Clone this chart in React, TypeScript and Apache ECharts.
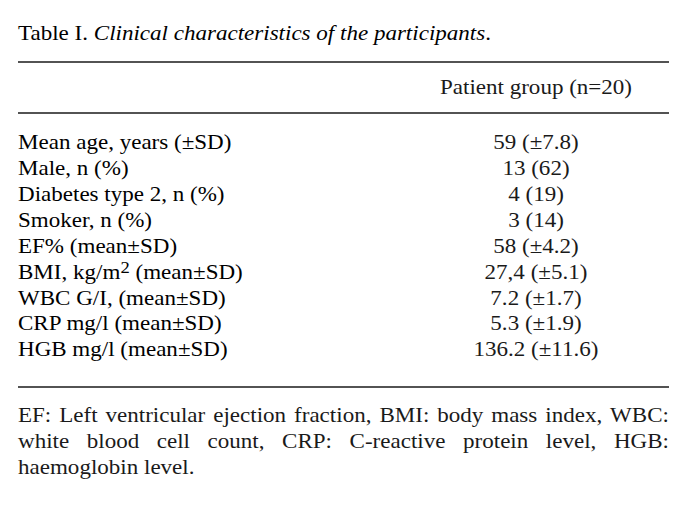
import React, { useEffect, useRef } from "react";
import * as echarts from "echarts";

const titleLead = "Table I. ";
const titleItalic = "Clinical characteristics of the participants";
const titleEnd = ".";
const columnHeader = "Patient group (n=20)";
const rowLabels = [
  "Mean age, years (±SD)",
  "Male, n (%)",
  "Diabetes type 2, n (%)",
  "Smoker, n (%)",
  "EF% (mean±SD)",
  "BMI, kg/m^2 (mean±SD)",
  "WBC G/I, (mean±SD)",
  "CRP mg/l (mean±SD)",
  "HGB mg/l (mean±SD)",
];
const rowValues = [
  "59 (±7.8)",
  "13 (62)",
  "4 (19)",
  "3 (14)",
  "58 (±4.2)",
  "27,4 (±5.1)",
  "7.2 (±1.7)",
  "5.3 (±1.9)",
  "136.2 (±11.6)",
];
const footnoteLines = [
  "EF: Left ventricular ejection fraction, BMI: body mass index, WBC:",
  "white blood cell count, CRP: C-reactive protein level, HGB:",
  "haemoglobin level.",
];

const FONT = "'Liberation Serif', 'Times New Roman', serif";
const FS = 21;
const SX = (1.28 * 18) / 21;
const LEFT = 18;
const RIGHT = 669;
const VAL_X = 536;
const COLOR = "#1a1a1a";

function measure(text: string): number {
  const c = document.createElement("canvas");
  const ctx = c.getContext("2d")!;
  ctx.font = `${FS}px ${FONT}`;
  return ctx.measureText(text).width * SX;
}

function richLabel(label: string): string {
  const m = label.match(/^(.*)\^(\d)(.*)$/);
  if (!m) return `{n|${label}}`;
  return `{n|${m[1]}}{sup|${m[2]}}{n|${m[3]}}`;
}

export default function App() {
  const ref = useRef<HTMLDivElement>(null);
  useEffect(() => {
    if (!ref.current) return;
    const chart = echarts.init(ref.current, undefined, { renderer: "svg" });
    const els: any[] = [];
    const textStyle = { fontFamily: FONT, fontSize: FS, fill: COLOR };

    els.push({
      type: "text",
      x: LEFT,
      y: 33,
      scaleX: SX,
      style: {
        text: `{n|${titleLead}}{i|${titleItalic}}{n|${titleEnd}}`,
        verticalAlign: "middle",
        rich: {
          n: { fontFamily: FONT, fontSize: FS, color: COLOR },
          i: { fontFamily: FONT, fontSize: FS, fontStyle: "italic", color: COLOR },
        },
      },
    });

    const rules = [62, 113, 387];
    rules.forEach((y) =>
      els.push({
        type: "line",
        shape: { x1: LEFT, y1: y, x2: RIGHT, y2: y },
        style: { stroke: COLOR, lineWidth: 1.6 },
      })
    );

    els.push({
      type: "text",
      x: VAL_X,
      y: 87,
      scaleX: SX,
      style: { ...textStyle, text: columnHeader, align: "center", verticalAlign: "middle" },
    });

    const rowY0 = 142;
    const rowStep = 25.9;
    rowLabels.forEach((lab, i) => {
      const y = rowY0 + i * rowStep;
      els.push({
        type: "text",
        x: LEFT,
        y,
        scaleX: SX,
        style: {
          text: richLabel(lab),
          verticalAlign: "middle",
          rich: {
            n: { fontFamily: FONT, fontSize: FS, color: COLOR },
            sup: { fontFamily: FONT, fontSize: 17, color: COLOR, padding: [0, 0, 9, 0] },
          },
        },
      });
      els.push({
        type: "text",
        x: VAL_X,
        y,
        scaleX: SX,
        style: { ...textStyle, text: rowValues[i], align: "center", verticalAlign: "middle" },
      });
    });

    const fnY0 = 415;
    const fnStep = 26;
    footnoteLines.forEach((line, li) => {
      const y = fnY0 + li * fnStep;
      const justify = li < footnoteLines.length - 1;
      if (!justify) {
        els.push({ type: "text", x: LEFT, y, scaleX: SX, style: { ...textStyle, text: line, verticalAlign: "middle" } });
        return;
      }
      const words = line.split(" ");
      const widths = words.map(measure);
      const total = widths.reduce((a, b) => a + b, 0);
      const gap = (RIGHT - LEFT - total) / (words.length - 1);
      let x = LEFT;
      words.forEach((w, wi) => {
        els.push({ type: "text", x, y, scaleX: SX, style: { ...textStyle, text: w, verticalAlign: "middle" } });
        x += widths[wi] + gap;
      });
    });

    chart.setOption({
      animation: false,
      backgroundColor: "#ffffff",
      graphic: { elements: els },
    });
    return () => chart.dispose();
  }, []);
  return (
    <div
      ref={ref}
      style={{ position: "fixed", left: 0, top: 0, width: 683, height: 506, background: "#fff" }}
    />
  );
}
